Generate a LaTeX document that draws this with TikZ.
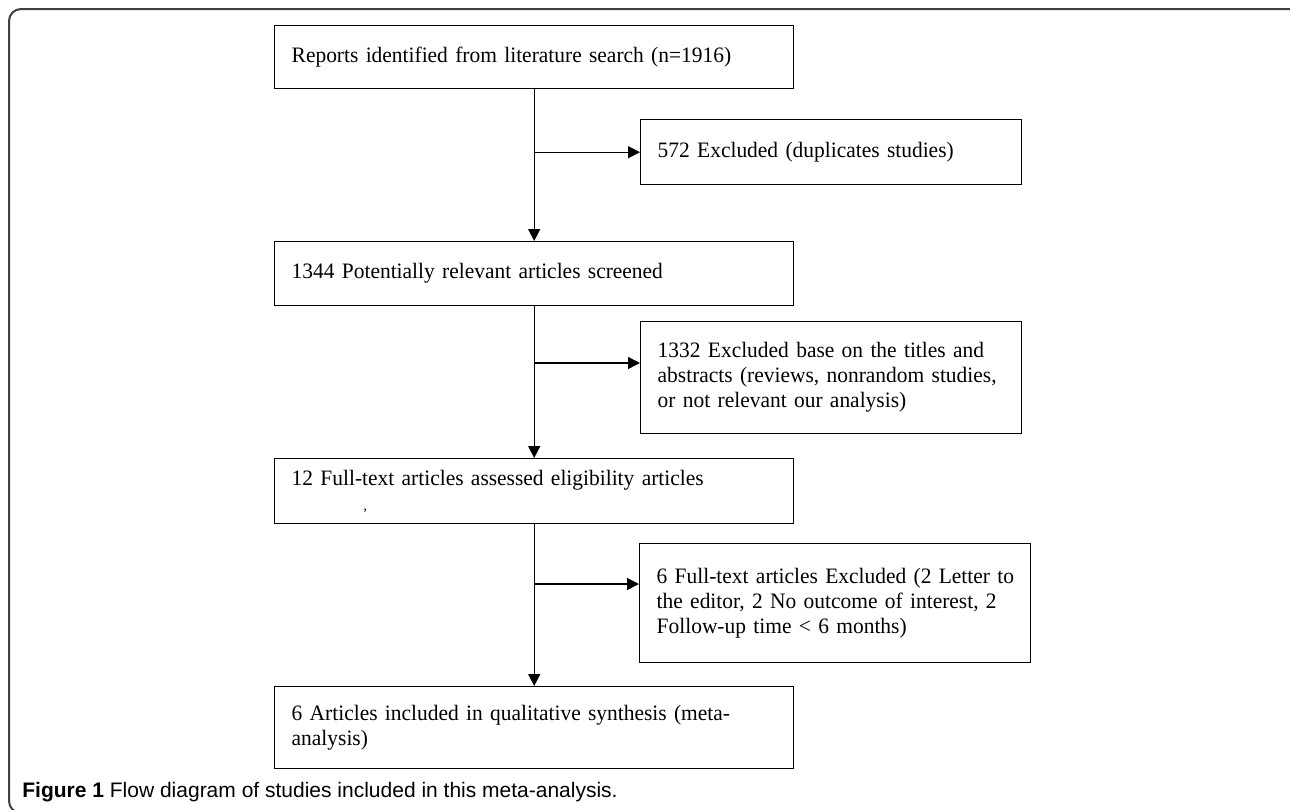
\documentclass[tikz,border=0pt]{standalone}
\usepackage{fontspec}
\setmainfont[FakeStretch=0.975]{Liberation Serif}
\newfontfamily\capfont{Liberation Sans}
\usetikzlibrary{arrows, arrows.meta, positioning}

\tikzset{
    stagebox/.style={draw, line width=0.7pt, anchor=north west, align=left,
        inner xsep=8.5pt, inner ysep=0pt,
        font=\fontsize{11}{12.5}\selectfont},
    flow/.style={line width=0.7pt, ->},
}

\begin{document}
\begin{tikzpicture}[x=0.5pt, y=-0.5pt, >={Triangle[length=6pt, width=6pt]}]
    \useasboundingbox (0,0) rectangle (1290,809);

    % Frame
    \draw[rounded corners=6pt, line width=1pt, black!75] (1300,9) -- (9,9) -- (9,813) -- (60,813);

    % Boxes
    \node[stagebox, minimum width=259.5pt, minimum height=31.5pt, text width=242.5pt] (reports) at (274,25)
        {Reports identified from literature search (n=1916)};
    \node[stagebox, minimum width=190.5pt, minimum height=32.5pt, text width=173.5pt] (dupl) at (640,119)
        {572 Excluded (duplicates studies)};
    \node[stagebox, minimum width=259.5pt, minimum height=32pt, text width=242.5pt] (screened) at (274,241)
        {1344 Potentially relevant articles screened};
    \node[stagebox, minimum width=190.5pt, minimum height=56pt, text width=173.5pt] (titles) at (640,321)
        {\mbox{1332 Excluded base on the titles and}\\\mbox{abstracts (reviews, nonrandom studies,}\\or not relevant our analysis)};
    \node[stagebox, minimum width=259.5pt, minimum height=32.5pt, text width=242.5pt] (fulltext) at (274,458)
        {12 Full-text articles assessed eligibility articles\\\hspace*{36pt}{\scriptsize,}};
    \node[stagebox, minimum width=195.5pt, minimum height=59.5pt, text width=178.5pt] (fullexcl) at (639,543)
        {\mbox{6 Full-text articles Excluded (2 Letter to}\\\mbox{the editor, 2 No outcome of interest, 2}\\Follow-up time < 6 months)};
    \node[stagebox, minimum width=259.5pt, minimum height=41pt, text width=242.5pt] (included) at (274,686)
        {6 Articles included in qualitative synthesis (meta-\\analysis)};

    % Branch points
    \coordinate (split1) at (reports.south |- dupl.west);
    \coordinate (split2) at (533.5,363);
    \coordinate (split3) at (533.5,584);

    % Arrows
    \draw[flow] (reports) -- (screened);
    \draw[flow] (screened) -- (fulltext);
    \draw[flow] (fulltext) -- (included);
    \draw[flow] (split1) -- (dupl.west);
    \draw[flow] (split2) -- (split2 -| titles.west);
    \draw[flow] (split3) -- (split3 -| fullexcl.west);

    % Caption
    \node[anchor=base west, inner sep=0pt, font=\capfont\fontsize{10.5}{12}\selectfont] (caption) at (22,797)
        {\textbf{Figure 1} Flow diagram of studies included in this meta-analysis.};
\end{tikzpicture}
\end{document}
